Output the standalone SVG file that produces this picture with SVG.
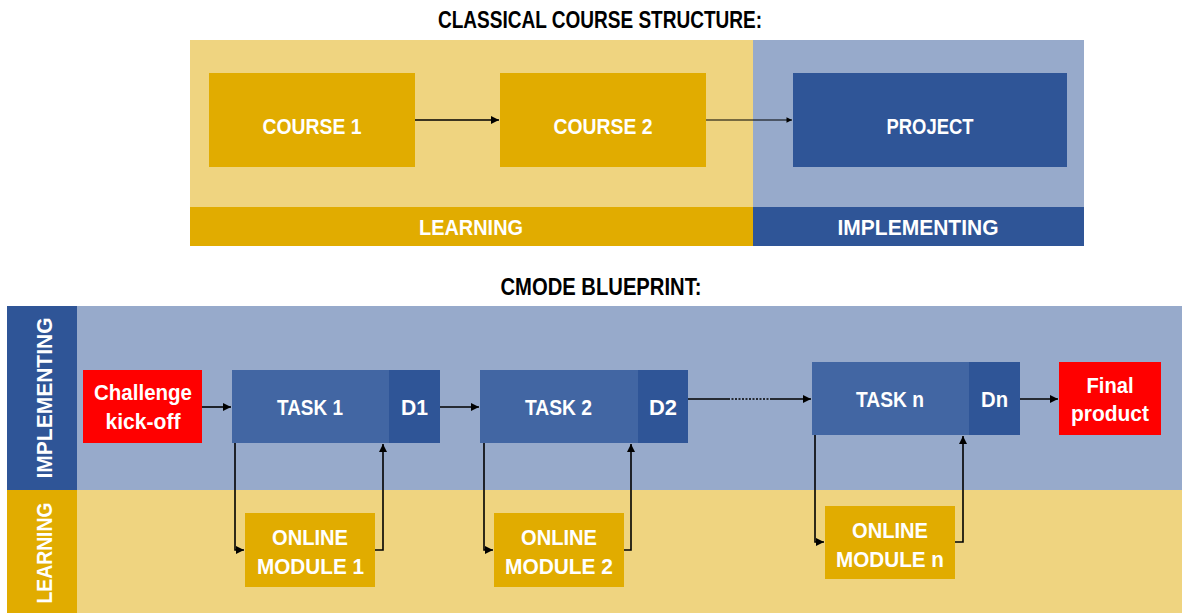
<svg xmlns="http://www.w3.org/2000/svg" width="1182" height="613" viewBox="0 0 1182 613">
<defs>
<style>
text{font-family:"Liberation Sans",Arial,sans-serif;font-weight:bold;fill:#fff;text-anchor:middle;font-size:22px}
.title{fill:#000;font-size:23px}
.ly{fill:#EFD480}.gold{fill:#E1AC00}.lb{fill:#97AACB}.db{fill:#2F5597}.tb{fill:#4266A3}.red{fill:#FF0000}
.c{stroke:#000;stroke-width:1.6;fill:none}
</style>
<marker id="ah" viewBox="0 0 10 10" refX="10" refY="5" markerWidth="5.5" markerHeight="5" markerUnits="strokeWidth" orient="auto">
<path d="M0,0L10,5L0,10z" fill="#000"/>
</marker>
</defs>
<rect width="1182" height="613" fill="#fff"/>
<g id="top-structure">
<text class="title" x="600" y="28" textLength="324" lengthAdjust="spacingAndGlyphs">CLASSICAL COURSE STRUCTURE:</text>
<rect class="ly" x="190" y="40" width="563" height="167"/>
<rect class="lb" x="753" y="40" width="331" height="167"/>
<g id="learning-band"><rect class="gold" x="190" y="207" width="563" height="39"/><text x="471" y="235" textLength="104" lengthAdjust="spacingAndGlyphs">LEARNING</text></g>
<g id="implementing-band"><rect class="db" x="753" y="207" width="331" height="39"/><text x="918" y="235" textLength="161" lengthAdjust="spacingAndGlyphs">IMPLEMENTING</text></g>
</g>
<g id="course1"><rect class="gold" x="209" y="73" width="206" height="94"/><text x="312" y="134" textLength="99" lengthAdjust="spacingAndGlyphs">COURSE 1</text></g>
<g id="course2"><rect class="gold" x="500" y="73" width="206" height="94"/><text x="603" y="134" textLength="99" lengthAdjust="spacingAndGlyphs">COURSE 2</text></g>
<g id="project"><rect class="db" x="793" y="73" width="274" height="94"/><text x="930" y="134" textLength="87" lengthAdjust="spacingAndGlyphs">PROJECT</text></g>

<g id="bottom-structure">
<text class="title" x="601" y="295" textLength="201" lengthAdjust="spacingAndGlyphs">CMODE BLUEPRINT:</text>
<rect class="lb" x="77" y="306" width="1105" height="184"/>
<rect class="ly" x="77" y="490" width="1105" height="123"/>
<g id="implementing-lane"><rect class="db" x="7" y="306" width="70" height="184"/><text transform="translate(52,398) rotate(-90)" x="0" y="0" textLength="161" lengthAdjust="spacingAndGlyphs">IMPLEMENTING</text></g>
<g id="learning-lane"><rect class="gold" x="7" y="490" width="70" height="123"/><text transform="translate(52,553) rotate(-90)" x="0" y="0" textLength="101" lengthAdjust="spacingAndGlyphs">LEARNING</text></g>
</g>
<g id="kickoff"><rect class="red" x="83" y="370" width="119" height="73"/><text x="143" y="400" textLength="98" lengthAdjust="spacingAndGlyphs">Challenge</text><text x="143" y="429" textLength="75" lengthAdjust="spacingAndGlyphs">kick-off</text></g>
<g id="task1"><rect class="tb" x="232" y="370" width="157" height="73"/><rect class="db" x="389" y="370" width="51" height="73"/><text x="310" y="415" textLength="66" lengthAdjust="spacingAndGlyphs">TASK 1</text><text x="414.5" y="415" textLength="27" lengthAdjust="spacingAndGlyphs">D1</text></g>
<g id="task2"><rect class="tb" x="480" y="370" width="158" height="73"/><rect class="db" x="638" y="370" width="50" height="73"/><text x="558.5" y="415" textLength="67" lengthAdjust="spacingAndGlyphs">TASK 2</text><text x="663" y="415" textLength="28" lengthAdjust="spacingAndGlyphs">D2</text></g>
<g id="taskn"><rect class="tb" x="812" y="362" width="157" height="73"/><rect class="db" x="969" y="362" width="51" height="73"/><text x="890" y="407" textLength="68" lengthAdjust="spacingAndGlyphs">TASK n</text><text x="994.5" y="407" textLength="27" lengthAdjust="spacingAndGlyphs">Dn</text></g>
<g id="final"><rect class="red" x="1059" y="362" width="102" height="73"/><text x="1110" y="393" textLength="47" lengthAdjust="spacingAndGlyphs">Final</text><text x="1110" y="421" textLength="78" lengthAdjust="spacingAndGlyphs">product</text></g>
<g id="module1"><rect class="gold" x="245" y="513" width="130" height="74"/><text x="310" y="545" textLength="76" lengthAdjust="spacingAndGlyphs">ONLINE</text><text x="310.5" y="574" textLength="107" lengthAdjust="spacingAndGlyphs">MODULE 1</text></g>
<g id="module2"><rect class="gold" x="494" y="513" width="130" height="74"/><text x="559" y="545" textLength="76" lengthAdjust="spacingAndGlyphs">ONLINE</text><text x="559" y="574" textLength="108" lengthAdjust="spacingAndGlyphs">MODULE 2</text></g>
<g id="modulen"><rect class="gold" x="825" y="506" width="130" height="73"/><text x="890" y="538" textLength="76" lengthAdjust="spacingAndGlyphs">ONLINE</text><text x="890" y="567" textLength="108" lengthAdjust="spacingAndGlyphs">MODULE n</text></g>

<g id="connectors">
<path class="c" d="M415,120H499" marker-end="url(#ah)"/>
<path class="c" d="M706,120H792" style="stroke-width:1.1" marker-end="url(#ah)"/>
<path class="c" d="M202,407H231" marker-end="url(#ah)"/>
<path class="c" d="M440,407H479" marker-end="url(#ah)"/>
<path class="c" d="M688,399H728"/>
<path class="c" d="M728,399H772" style="stroke-dasharray:2,1.5"/>
<path class="c" d="M772,399H811" marker-end="url(#ah)"/>
<path class="c" d="M1020,399H1058" marker-end="url(#ah)"/>
<path class="c" d="M235,443V550H244" marker-end="url(#ah)"/>
<path class="c" d="M375,550H383V444" marker-end="url(#ah)"/>
<path class="c" d="M484,443V550H493" marker-end="url(#ah)"/>
<path class="c" d="M624,550H631V444" marker-end="url(#ah)"/>
<path class="c" d="M815,435V542H824" marker-end="url(#ah)"/>
<path class="c" d="M955,542H963V436" marker-end="url(#ah)"/>
</g>
</svg>
